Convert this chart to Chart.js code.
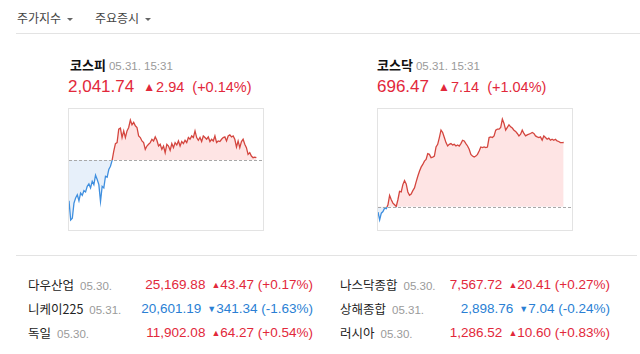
<!DOCTYPE html>
<html lang="ko">
<head>
<meta charset="utf-8">
<script src="https://cdn.jsdelivr.net/npm/chart.js@4/dist/chart.umd.min.js"></script>
<style>
  html, body { margin: 0; padding: 0; background: #fff; }
  body { width: 640px; height: 354px; position: relative; overflow: hidden;
         font-family: "Liberation Sans", "Noto Sans CJK KR", sans-serif; color: #222; }
  .abs { position: absolute; white-space: nowrap; }
  .tab { font-family: "Noto Sans CJK KR", sans-serif; font-size: 12px; color: #444; top: 9px; }
  .caret { display: inline-block; width: 0; height: 0; margin-left: 6px; vertical-align: 2px;
           border-left: 3px solid transparent; border-right: 3px solid transparent; border-top: 3px solid #666; }
  .hr { position: absolute; height: 1px; background: #e3e3e3; }
  .ttl { font-family: "Noto Sans CJK KR", sans-serif; font-weight: bold; font-size: 13px; color: #111; top: 55px; }
  .dt { font-size: 11.5px; color: #9a9a9a; font-weight: normal; font-family: "Liberation Sans", sans-serif; }
  .ttl .dt { margin-left: 3px; }
  .big { top: 77px; font-size: 17px; }
  .chg { font-size: 14.5px; margin-left: 9px; }
  .chg .t { font-size: 12px; vertical-align: 1px; margin-right: 1px; }
  .chg .p { margin-left: 8px; }
  .up { color: #e2283b; }
  .dn { color: #2a7fd4; }
  .box { position: absolute; top: 108px; width: 194px; height: 121px; border: 1px solid #e3e3e3; }
  .box canvas { display: block; }
  .row { position: absolute; height: 18px; line-height: 18px; font-size: 13.5px; }
  .nm { font-family: "Noto Sans CJK KR", sans-serif; font-size: 12.5px; color: #222; }
  .row .dt { margin-left: 6px; }
  .val { position: absolute; top: 0; right: 0; }
  .tri { font-size: 9px; vertical-align: 1px; margin-left: 6px; }
</style>
</head>
<body>
<div class="abs tab" style="left:17px">주가지수<span class="caret"></span></div>
<div class="abs tab" style="left:95px">주요증시<span class="caret"></span></div>
<div class="hr" style="left:16px; right:0; top:33px"></div>

<div class="abs ttl" style="left:70px">코스피<span class="dt">05.31. 15:31</span></div>
<div class="abs big up" style="left:68px">2,041.74<span class="chg"><span class="t">▲</span>2.94<span class="p">(+0.14%)</span></span></div>
<div class="box" style="left:68px"><canvas id="kospi" width="194" height="121"></canvas></div>

<div class="abs ttl" style="left:377px">코스닥<span class="dt">05.31. 15:31</span></div>
<div class="abs big up" style="left:377px">696.47<span class="chg"><span class="t">▲</span>7.14<span class="p">(+1.04%)</span></span></div>
<div class="box" style="left:377px"><canvas id="kosdaq" width="194" height="121"></canvas></div>

<div class="hr" style="left:16px; right:3px; top:255px"></div>

<div class="row" style="left:28px; width:285px; top:276px"><span class="nm">다우산업</span><span class="dt">05.30.</span><span class="val up">25,169.88<span class="tri">▲</span>43.47 (+0.17%)</span></div>
<div class="row" style="left:28px; width:285px; top:300px"><span class="nm">니케이225</span><span class="dt">05.31.</span><span class="val dn">20,601.19<span class="tri">▼</span>341.34 (-1.63%)</span></div>
<div class="row" style="left:28px; width:285px; top:324px"><span class="nm">독일</span><span class="dt">05.30.</span><span class="val up">11,902.08<span class="tri">▲</span>64.27 (+0.54%)</span></div>

<div class="row" style="left:340px; width:270px; top:276px"><span class="nm">나스닥종합</span><span class="dt">05.30.</span><span class="val up">7,567.72<span class="tri">▲</span>20.41 (+0.27%)</span></div>
<div class="row" style="left:340px; width:270px; top:300px"><span class="nm">상해종합</span><span class="dt">05.31.</span><span class="val dn">2,898.76<span class="tri">▼</span>7.04 (-0.24%)</span></div>
<div class="row" style="left:340px; width:270px; top:324px"><span class="nm">러시아</span><span class="dt">05.30.</span><span class="val up">1,286.52<span class="tri">▲</span>10.60 (+0.83%)</span></div>

<script>
// ---------- datos ----------
// slots del día (09:00 ~ 15:30), cada 200 s
const SLOT_COUNT = 118;
const timeLabels = [];
for (let i = 0; i < SLOT_COUNT; i++) {
  const m = Math.floor(i * 200 / 60);
  const hh = String(9 + Math.floor(m / 60)).padStart(2, '0');
  const mm = String(m % 60).padStart(2, '0');
  timeLabels.push(`${hh}:${mm}`);
}

// 코스피 (전일 종가 2038.80)
const kospiBase = 2038.80;
const kospiRange = [2017.95, 2053.95];
const kospiValues = [
  2026.65, 2020.95, 2021.46, 2025.96, 2027.46, 2028.45, 2026.65, 2028.96, 2028.24, 2029.65,
  2029.26, 2030.94, 2031.66, 2030.46, 2032.44, 2031.45, 2034.24, 2032.95, 2031.45, 2026.44,
  2030.94, 2030.46, 2033.94, 2033.64, 2035.95, 2036.94, 2038.65, 2041.44, 2043.66, 2043.96,
  2047.95, 2048.25, 2045.46, 2047.44, 2045.46, 2047.44, 2048.46, 2050.65, 2049.24, 2049.96,
  2048.94, 2048.46, 2045.94, 2045.46, 2044.44, 2043.96, 2041.95, 2042.94, 2043.45, 2043.96,
  2044.95, 2044.44, 2045.64, 2044.65, 2042.94, 2043.45, 2041.95, 2042.94, 2040.96, 2043.45,
  2042.94, 2041.65, 2043.66, 2042.46, 2043.96, 2043.24, 2044.44, 2042.94, 2044.26, 2043.66,
  2044.65, 2043.96, 2045.46, 2044.95, 2045.94, 2045.46, 2047.44, 2045.46, 2044.65, 2045.46,
  2044.26, 2045.94, 2045.46, 2044.95, 2045.64, 2044.26, 2044.95, 2044.44, 2045.94, 2043.96,
  2044.44, 2044.26, 2044.95, 2045.46, 2045.64, 2044.44, 2045.94, 2046.24, 2045.64, 2045.94,
  2044.95, 2042.64, 2044.44, 2042.46, 2044.26, 2044.95, 2043.45, 2042.46, 2040.45, 2040.96,
  2039.94, 2039.46, 2039.64, 2039.46
];

// 코스닥 (전일 종가 689.33)
const kosdaqBase = 689.33;
const kosdaqRange = [686.75, 700.19];
const kosdaqValues = [
  688.74, 687.87, 688.62, 688.80, 689.18, 689.11, 689.55, 690.60, 690.11, 689.74,
  689.55, 689.36, 690.11, 691.04, 690.98, 691.79, 692.24, 691.87, 690.98, 690.60,
  690.75, 691.12, 691.42, 692.10, 692.72, 693.28, 693.73, 694.03, 694.40, 694.59,
  695.23, 695.15, 694.78, 694.85, 694.96, 695.97, 696.27, 697.02, 697.84, 697.58,
  697.02, 696.46, 696.08, 696.27, 696.35, 696.20, 696.27, 696.08, 696.20, 696.08,
  696.35, 696.72, 696.64, 696.35, 696.08, 695.71, 695.15, 694.96, 694.85, 694.96,
  695.15, 695.52, 695.97, 695.90, 695.97, 695.90, 695.97, 697.02, 697.09, 697.02,
  697.20, 697.84, 697.95, 697.95, 698.14, 699.07, 698.59, 697.84, 698.14, 698.44,
  698.21, 698.07, 697.84, 697.70, 697.47, 697.20, 697.39, 697.84, 697.47, 697.20,
  697.32, 697.39, 697.47, 697.58, 697.47, 697.20, 697.09, 697.02, 697.09, 696.72,
  697.20, 697.02, 696.83, 696.95, 696.72, 696.83, 696.72, 696.83, 696.64, 696.58,
  696.46, 696.46, 696.47
];

// ---------- estilos ----------
const RED_LINE = '#d4463f';
const BLUE_LINE = '#3f8fdf';
const RED_FILL = 'rgba(250, 120, 120, 0.2)';
const BLUE_FILL = 'rgba(120, 170, 230, 0.18)';

// línea punteada del cierre anterior
const baseLinePlugin = {
  id: 'baseLine',
  afterDatasetsDraw(chart, args, opts) {
    const { ctx, chartArea, scales } = chart;
    const y = Math.round(scales.y.getPixelForValue(opts.value)) + 0.5;
    ctx.save();
    ctx.strokeStyle = '#a8a8a8';
    ctx.lineWidth = 1;
    ctx.setLineDash([3, 2]);
    ctx.beginPath();
    ctx.moveTo(chartArea.left, y);
    ctx.lineTo(chartArea.right, y);
    ctx.stroke();
    ctx.restore();
  }
};

function splitColor(base) {
  return (c) => {
    const { chart } = c;
    const area = chart.chartArea;
    if (!area) return RED_LINE;
    const yb = chart.scales.y.getPixelForValue(base);
    const f = Math.min(1, Math.max(0, (yb - area.top) / (area.bottom - area.top)));
    const g = chart.ctx.createLinearGradient(0, area.top, 0, area.bottom);
    g.addColorStop(0, RED_LINE);
    g.addColorStop(f, RED_LINE);
    g.addColorStop(f, BLUE_LINE);
    g.addColorStop(1, BLUE_LINE);
    return g;
  };
}

function buildChart(id, values, base, range) {
  return new Chart(document.getElementById(id), {
    type: 'line',
    data: {
      labels: timeLabels,
      datasets: [{
        data: values,
        borderColor: splitColor(base),
        borderWidth: 1.3,
        pointRadius: 0,
        tension: 0,
        fill: { target: { value: base }, above: RED_FILL, below: BLUE_FILL }
      }]
    },
    options: {
      responsive: false,
      animation: false,
      events: [],
      layout: { padding: 0 },
      plugins: {
        legend: { display: false },
        tooltip: { enabled: false },
        baseLine: { value: base }
      },
      scales: {
        x: { display: false, offset: false },
        y: { display: false, min: range[0], max: range[1] }
      }
    },
    plugins: [baseLinePlugin]
  });
}

buildChart('kospi', kospiValues, kospiBase, kospiRange);
buildChart('kosdaq', kosdaqValues, kosdaqBase, kosdaqRange);
</script>
</body>
</html>
